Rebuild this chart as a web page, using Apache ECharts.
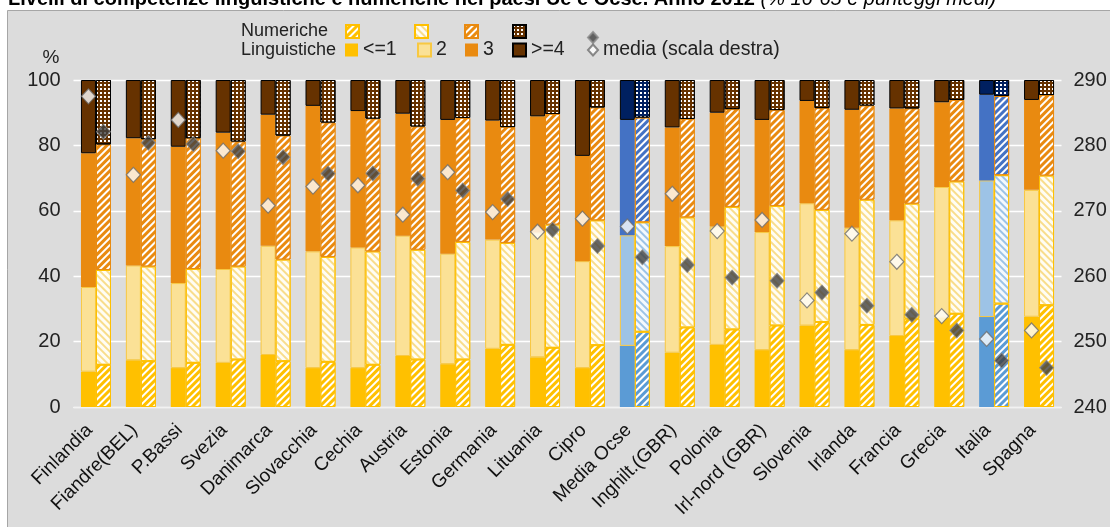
<!DOCTYPE html>
<html>
<head>
<meta charset="utf-8">
<script src="https://cdn.jsdelivr.net/npm/echarts@6/dist/echarts.min.js"></script>
<style>html,body{margin:0;padding:0;background:#fff}#c{width:1110px;height:527px}</style>
</head>
<body>
<div id="c"></div>
<script>
const categories = ['Finlandia','Fiandre(BEL)','P.Bassi','Svezia','Danimarca','Slovacchia','Cechia','Austria','Estonia','Germania','Lituania','Cipro','Media Ocse','Inghilt.(GBR)','Polonia','Irl-nord (GBR)','Slovenia','Irlanda','Francia','Grecia','Italia','Spagna'];

// Linguistiche (% per livello)
const ling1 = [10.8,14.3,11.9,13.5,15.9,11.9,11.9,15.6,13.1,17.8,15.2,11.9,18.7,16.6,19.0,17.4,24.9,17.4,21.7,27.3,27.5,27.6];
const ling2 = [25.9,29.0,26.0,28.7,33.4,35.7,36.9,36.8,33.8,33.4,38.2,32.7,33.8,32.6,36.2,36.1,37.4,37.4,35.4,40.0,41.8,38.8];
const ling3 = [40.9,38.9,41.7,41.7,40.1,44.5,41.7,37.3,40.9,36.4,35.5,32.2,35.3,36.3,34.8,34.3,31.3,36.1,34.2,25.9,26.2,27.5];
const ling4 = [22.4,17.8,20.4,16.1,10.6,7.9,9.5,10.3,12.2,12.4,11.1,23.2,12.2,14.5,10.0,12.2,6.4,9.1,8.7,6.8,4.5,6.1];

// Numeriche (% per livello)
const num1 = [12.9,14.0,13.5,14.5,14.0,13.8,12.9,14.5,14.5,19.0,18.1,18.9,23.0,24.3,23.7,24.9,26.0,25.1,27.0,28.5,31.6,31.1];
const num2 = [29.0,29.0,28.7,28.5,31.1,32.1,34.7,33.6,36.0,31.2,37.7,38.2,33.5,33.7,37.5,36.6,34.3,38.3,35.2,40.5,39.3,39.7];
const num3 = [38.4,38.9,40.0,38.2,37.9,41.1,40.6,37.7,37.9,35.4,33.8,34.5,32.0,30.1,29.9,29.3,31.1,28.8,29.1,24.9,24.2,24.6];
const num4 = [19.7,18.1,17.8,18.8,17.0,13.0,11.8,14.2,11.6,14.4,10.4,8.4,11.5,11.9,8.9,9.2,8.6,7.8,8.7,6.1,4.9,4.6];

// Punteggi medi (scala destra)
const lingMean = [287.5,275.5,283.9,279.2,270.8,273.7,273.9,269.4,275.9,269.8,266.8,268.8,267.6,272.6,266.9,268.6,256.3,266.5,262.2,253.9,250.4,251.7];
const numMean = [282.1,280.4,280.2,279.1,278.2,275.7,275.7,274.9,273.1,271.8,267.1,264.6,262.9,261.7,259.8,259.3,257.5,255.5,254.1,251.7,247.1,246.0];

const leftTicks = [0,20,40,60,80,100];
const rightTicks = [240,250,260,270,280,290];

const FONT = "'Liberation Sans',Arial,sans-serif";
const TXT = '#222';
const C = {l1:'#FFC000', l2:'#FBE196', l3:'#E98A10', l4:'#663200'};
const B = {l1:'#5B9BD5', l2:'#9DC3E6', l3:'#4472C4', l4:'#002060'};
const blueIdx = [categories.indexOf('Media Ocse'), categories.indexOf('Italia')];

const stripe = (color, dir) => ({symbol:'rect', symbolSize:1, dashArrayX:[1,0], dashArrayY:[2,3], rotation: dir*Math.PI/4, color: color});
const dots = (color) => ({symbol:'rect', symbolSize:1, dashArrayX:[2,2], dashArrayY:[2,1.5], rotation:0, color: color});

function withBlue(values, blueStyle) {
  return values.map((v, i) => blueIdx.indexOf(i) >= 0 ? {value: v, itemStyle: blueStyle} : v);
}

const BW = 15;
function barSeries(name, stack, values, style, blueStyle) {
  return {
    name: name, type: 'bar', stack: stack, barWidth: BW, barGap: '0%',
    data: withBlue(values, blueStyle),
    itemStyle: style, z: 2
  };
}

const series = [
  barSeries('<=1','L', ling1, {color:C.l1, borderColor:C.l1, borderWidth:0}, {color:B.l1}),
  barSeries('2','L', ling2, {color:C.l2, borderColor:'#F8C841', borderWidth:1}, {color:B.l2}),
  barSeries('3','L', ling3, {color:C.l3, borderColor:C.l3, borderWidth:0}, {color:B.l3}),
  barSeries('>=4','L', ling4, {color:C.l4, borderColor:'#000', borderWidth:1}, {color:B.l4}),
  barSeries('N <=1','N', num1, {color:C.l1, borderColor:'#FFC000', borderWidth:1, decal: stripe('#ffffff', -1)}, {color:B.l1, decal: stripe('#ffffff', -1)}),
  barSeries('N 2','N', num2, {color:'#FFFDF4', borderColor:'#FFC000', borderWidth:1, decal: stripe('#F8DD8C', 1)}, {color:'#F4F9FD', decal: stripe('#9DC3E6', 1)}),
  barSeries('N 3','N', num3, {color:C.l3, borderColor:C.l3, borderWidth:1, decal: stripe('#ffffff', -1)}, {color:B.l3, decal: stripe('#ffffff', -1)}),
  barSeries('N >=4','N', num4, {color:C.l4, borderColor:'#000', borderWidth:1, decal: dots('#ffffff')}, {color:B.l4, decal: dots('#ffffff')}),
  {
    name:'media (scala destra)', type:'scatter', yAxisIndex:1, data: lingMean,
    symbol:'diamond', symbolSize:[14,15], symbolOffset:[-BW/2, 0],
    itemStyle:{color:'#ffffff', borderColor:'#6e6e6e', borderWidth:1.2}, z:5
  },
  {
    name:'media N', type:'scatter', yAxisIndex:1, data: numMean,
    symbol:'diamond', symbolSize:[14,15], symbolOffset:[BW/2, 0],
    itemStyle:{color:'#404040', borderColor:'#8a8a8a', borderWidth:1}, z:5
  }
];

function leg(name, left, top, opts) {
  return Object.assign({
    data:[name], left:left, top:top, padding:0, itemGap:0,
    itemWidth:13, itemHeight:13, icon:'rect', selectedMode:false,
    textStyle:{fontSize:19.5, fontFamily:FONT, color:TXT}
  }, opts || {});
}
const noText = {formatter: () => '', textStyle:{fontSize:10}};

const legends = [
  leg('N <=1', 345, 24, noText),
  leg('N 2', 414, 24, noText),
  leg('N 3', 464, 24, noText),
  leg('N >=4', 512, 24, noText),
  Object.assign(leg('media N', 587, 31, noText), {icon:'diamond', itemWidth:10, itemHeight:11}),
  leg('<=1', 345, 40),
  leg('2', 417, 40),
  leg('3', 465, 40),
  leg('>=4', 512, 40),
  Object.assign(leg('media (scala destra)', 587, 40), {icon:'diamond', itemWidth:10, itemHeight:11})
];

const option = {
  animation: false,
  backgroundColor: '#ffffff',
  graphic: [
    {type:'text', left:8, top:-11, z:1, style:{
      text:'{b|Livelli di competenze linguistiche e numeriche nei paesi Ue e Ocse. Anno 2012 }{i|(% 16-65 e punteggi medi)}',
      rich:{b:{fontSize:20, fontWeight:'bold', fontFamily:FONT, fill:'#000'}, i:{fontSize:20, fontStyle:'italic', fontFamily:FONT, fill:'#000'}}
    }},
    {type:'rect', left:7, top:10, z:-10, shape:{width:1110, height:530}, style:{fill:'#DCDCDC', stroke:'#A6A6A6', lineWidth:1}},
    {type:'text', left:241, top:22, style:{text:'Numeriche', fontSize:18, fontFamily:FONT, fill:TXT}},
    {type:'text', left:241, top:41, style:{text:'Linguistiche', fontSize:18, fontFamily:FONT, fill:TXT}}
  ],
  legend: legends,
  grid: {left:73.5, right:48.5, top:80, bottom:120, containLabel:false, outerBoundsMode:'none'},
  xAxis: {
    type:'category', data: categories,
    axisTick:{show:false},
    axisLine:{lineStyle:{color:'#F2F2F2', width:1}},
    axisLabel:{rotate:45, interval:0, fontSize:19, fontFamily:FONT, color:'#111', margin:14, padding:[0,9,0,0]}
  },
  yAxis: [
    {
      type:'value', min:leftTicks[0], max:leftTicks[leftTicks.length-1], interval:leftTicks[1]-leftTicks[0],
      name:'%', nameLocation:'end', nameGap:13,
      nameTextStyle:{fontSize:19, fontFamily:FONT, color:TXT, align:'right', padding:[0,14,0,0]},
      axisLine:{show:false}, axisTick:{show:false},
      splitLine:{lineStyle:{color:'#ffffff', width:1.3}},
      axisLabel:{fontSize:20, fontFamily:FONT, color:TXT, margin:13}
    },
    {
      type:'value', position:'right', min:rightTicks[0], max:rightTicks[rightTicks.length-1], interval:rightTicks[1]-rightTicks[0],
      axisLine:{show:false}, axisTick:{show:false}, splitLine:{show:false},
      axisLabel:{fontSize:20, fontFamily:FONT, color:TXT, margin:12}
    }
  ],
  series: series
};

const chart = echarts.init(document.getElementById('c'), null, {renderer:'canvas'});
chart.setOption(option);
</script>
</body>
</html>
